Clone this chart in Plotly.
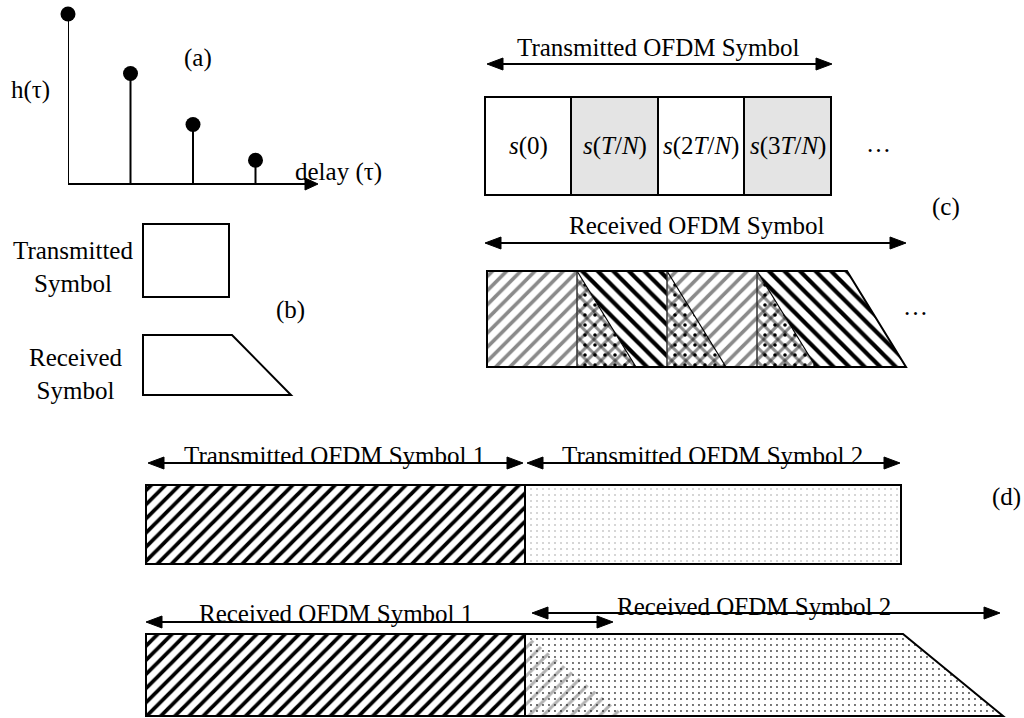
import plotly.graph_objects as go

W, H = 1024, 718
FONT = "Liberation Serif"
FS = 25

# (a) multipath channel: tap delays and relative gains
tap_delay = [0, 1, 2, 3]
tap_gain = [1.0, 0.65, 0.35, 0.14]
a_frame = [68, 318, 184, 14]          # left px, right px, zero-gain px, unit-gain px

# (b) one symbol before / after the channel (pixel frame)
b_tx_box = [143, 224, 229, 297]       # x0, y0, x1, y1
b_rx_box = [143, 335, 232, 291, 395]  # x0, y0, top-right x, bottom-right x, y1

# (c) OFDM samples in time
c_tx_labels = ["<i>s</i>(0)", "<i>s</i>(<i>T</i>/<i>N</i>)",
               "<i>s</i>(2<i>T</i>/<i>N</i>)", "<i>s</i>(3<i>T</i>/<i>N</i>)"]
c_tx_edges = [485, 571, 658, 744, 831]
c_tx_fill = ["white", "#e4e4e4", "white", "#e4e4e4"]
c_tx_y = [97, 195]
c_rx_edges = [487, 577, 667, 757, 847]
c_rx_y = [271, 367]
c_rx_tail = 59                         # spill of each sample into the next one
c_rx_style = ["gray", "black", "gray", "black"]

# (d) two consecutive OFDM symbols
d_x = [146, 525, 901]                  # start, boundary, end
d_tx_y = [485, 564]
d_rx_y = [634, 716]
d_rx_end = [903, 1003]                 # received symbol 2: top-right, bottom-right
d_rx_spill = 100                       # tail of symbol 1 leaking into symbol 2

# double-headed arrows: x_left, x_right, y, label, label_x, label_y
arrows = [
    (487, 832, 64, "Transmitted OFDM Symbol", 658, 47),
    (485, 906, 243, "Received OFDM Symbol", 697, 225),
    (148, 523, 463, "Transmitted OFDM Symbol 1", 334, 455),
    (527, 900, 463, "Transmitted OFDM Symbol 2", 712, 455),
    (146, 613, 622, "Received OFDM Symbol 1", 336, 613),
    (532, 1000, 613, "Received OFDM Symbol 2", 754, 606),
]

# free labels: text, x, y
labels = [
    ("h(τ)", 30, 90), ("(a)", 198, 58), ("delay (τ)", 338, 172),
    ("Transmitted<br>Symbol", 73, 267), ("Received<br>Symbol", 76, 374),
    ("(b)", 290, 310), ("(c)", 946, 207), ("(d)", 1006, 497),
    ("…", 878, 143), ("…", 915, 306),
]

fig = go.Figure()
shapes = []
annotations = []


def poly(xs, ys, **pattern):
    fig.add_trace(go.Scatter(
        x=list(xs) + [xs[0]], y=list(ys) + [ys[0]], mode="lines",
        fill="toself", fillcolor="rgba(0,0,0,0)",
        line=dict(width=0, color="rgba(0,0,0,0)"),
        fillpattern=pattern, hoverinfo="skip", showlegend=False,
        xaxis="x", yaxis="y"))


def solid(xs, ys, color):
    fig.add_trace(go.Scatter(
        x=list(xs) + [xs[0]], y=list(ys) + [ys[0]], mode="lines",
        fill="toself", fillcolor=color,
        line=dict(width=0, color="rgba(0,0,0,0)"),
        hoverinfo="skip", showlegend=False, xaxis="x", yaxis="y"))


def outline(xs, ys, width=2, close=True, color="black"):
    d = "M" + " L".join(f"{x},{y}" for x, y in zip(xs, ys))
    if close:
        d += " Z"
    shapes.append(dict(type="path", path=d, xref="x", yref="y",
                       line=dict(color=color, width=width)))


def segment(x0, y0, x1, y1, width=2, color="black"):
    shapes.append(dict(type="line", x0=x0, y0=y0, x1=x1, y1=y1, xref="x", yref="y",
                       line=dict(color=color, width=width)))


def head(x_tip, y, direction, length=16, half=6):
    xb = x_tip - direction * length
    shapes.append(dict(type="path", xref="x", yref="y",
                       path=f"M{x_tip},{y} L{xb},{y - half} L{xb},{y + half} Z",
                       fillcolor="black", line=dict(color="black", width=1)))


def label(text, x, y, size=FS):
    annotations.append(dict(text=text, x=x, y=y, xref="x", yref="y", showarrow=False,
                            xanchor="center", yanchor="middle", align="center",
                            font=dict(family=FONT, size=size, color="black")))


STRIPE_GRAY = dict(shape="/", size=10, solidity=0.36, fgcolor="#8a8a8a",
                   bgcolor="white", fillmode="replace")
STRIPE_BLACK_BACK = dict(shape="\\", size=11, solidity=0.38, fgcolor="black",
                         bgcolor="white", fillmode="replace")
STRIPE_BLACK_FWD = dict(shape="/", size=10, solidity=0.38, fgcolor="black",
                        bgcolor="white", fillmode="replace")


def crosshatch(xs, ys):
    poly(xs, ys, shape="/", size=10, solidity=0.3, fgcolor="rgba(0,0,0,0.45)",
         bgcolor="white", fillmode="replace")
    poly(xs, ys, shape="\\", size=10, solidity=0.3, fgcolor="rgba(0,0,0,0.45)",
         bgcolor="rgba(0,0,0,0)", fillmode="replace")
    poly(xs, ys, shape=".", size=10, solidity=0.1, fgcolor="black",
         bgcolor="rgba(0,0,0,0)", fillmode="replace")


# ---- (a) impulse response on its own axes ----
stem_x, stem_y = [], []
for d, g in zip(tap_delay, tap_gain):
    stem_x += [d, d, None]
    stem_y += [0, g, None]
fig.add_trace(go.Scatter(x=stem_x, y=stem_y, mode="lines", line=dict(color="black", width=2),
                         xaxis="x2", yaxis="y2", showlegend=False, hoverinfo="skip",
                         cliponaxis=False))
fig.add_trace(go.Scatter(x=tap_delay, y=tap_gain, mode="markers",
                         marker=dict(color="black", size=15), xaxis="x2", yaxis="y2",
                         showlegend=False, hoverinfo="skip", cliponaxis=False))
segment(a_frame[0], a_frame[2], a_frame[1] - 10, a_frame[2])
head(a_frame[1], a_frame[2], 1, length=13, half=6)

# ---- (b) ----
x0, y0, x1, y1 = b_tx_box
outline([x0, x1, x1, x0], [y0, y0, y1, y1])
x0, y0, xt, xb, y1 = b_rx_box
outline([x0, xt, xb, x0], [y0, y0, y1, y1])

# ---- (c) transmitted samples ----
for i, txt in enumerate(c_tx_labels):
    xl, xr = c_tx_edges[i], c_tx_edges[i + 1]
    solid([xl, xr, xr, xl], [c_tx_y[0], c_tx_y[0], c_tx_y[1], c_tx_y[1]], c_tx_fill[i])
    outline([xl, xr, xr, xl], [c_tx_y[0], c_tx_y[0], c_tx_y[1], c_tx_y[1]])
    label(txt, (xl + xr) / 2, (c_tx_y[0] + c_tx_y[1]) / 2)

# ---- (c) received samples with delay spread ----
yt, yb = c_rx_y
n = len(c_rx_style)
for i, style in enumerate(c_rx_style):
    xl, xr = c_rx_edges[i], c_rx_edges[i + 1]
    pat = STRIPE_GRAY if style == "gray" else STRIPE_BLACK_BACK
    if i == 0:
        body_x = [xl, xr, xr, xl]
    elif i == n - 1:
        body_x = [xl, xr, xr + c_rx_tail, xl + c_rx_tail]
    else:
        body_x = [xl, xr, xr, xl + c_rx_tail]
    poly(body_x, [yt, yt, yb, yb], **pat)
    if i > 0:
        crosshatch([xl, xl, xl + c_rx_tail], [yt, yb, yb])
        segment(xl, yt, xl + c_rx_tail, yb, width=1.2)
        segment(xl, yt, xl, yb, width=1.5, color="#333")
last_r = c_rx_edges[-1]
outline([c_rx_edges[0], last_r, last_r + c_rx_tail, c_rx_edges[0]], [yt, yt, yb, yb])

# ---- (d) transmitted symbols ----
xs, xm, xe = d_x
ty0, ty1 = d_tx_y
poly([xs, xm, xm, xs], [ty0, ty0, ty1, ty1], **STRIPE_BLACK_FWD)
poly([xm, xe, xe, xm], [ty0, ty0, ty1, ty1], shape=".", size=6, solidity=0.05,
     fgcolor="#999", bgcolor="white", fillmode="replace")
outline([xs, xm, xm, xs], [ty0, ty0, ty1, ty1])
outline([xm, xe, xe, xm], [ty0, ty0, ty1, ty1])

# ---- (d) received symbols ----
ry0, ry1 = d_rx_y
poly([xs, xm, xm, xs], [ry0, ry0, ry1, ry1], **STRIPE_BLACK_FWD)
poly([xm, d_rx_end[0], d_rx_end[1], xm], [ry0, ry0, ry1, ry1], shape=".", size=6,
     solidity=0.08, fgcolor="#444", bgcolor="white", fillmode="replace")
poly([xm, xm, xm + d_rx_spill], [ry0, ry1, ry1], shape="/", size=10, solidity=0.3,
     fgcolor="rgba(0,0,0,0.3)", bgcolor="rgba(0,0,0,0)", fillmode="replace")
outline([xs, xm, xm, xs], [ry0, ry0, ry1, ry1])
outline([xm, d_rx_end[0], d_rx_end[1], xm], [ry0, ry0, ry1, ry1])

# ---- arrows and their labels ----
for xl, xr, y, txt, lx, ly in arrows:
    segment(xl + 8, y, xr - 8, y)
    head(xl, y, -1)
    head(xr, y, 1)
    label(txt, lx, ly)

for txt, x, y in labels:
    label(txt, x, y)

ax_hidden = dict(visible=False, showgrid=False, zeroline=False, fixedrange=True)
fig.update_layout(
    width=W, height=H, margin=dict(l=0, r=0, t=0, b=0),
    paper_bgcolor="white", plot_bgcolor="rgba(0,0,0,0)",
    xaxis=dict(range=[0, W], domain=[0, 1], **ax_hidden),
    yaxis=dict(range=[H, 0], domain=[0, 1], **ax_hidden),
    xaxis2=dict(range=[0, 4], domain=[a_frame[0] / W, (a_frame[0] + 4 * 62.5) / W],
                anchor="y2", **ax_hidden),
    yaxis2=dict(range=[0, 1], domain=[(H - a_frame[2]) / H, (H - a_frame[3]) / H],
                anchor="x2", **ax_hidden),
    shapes=shapes, annotations=annotations, showlegend=False,
)
fig.write_html("out.html")
